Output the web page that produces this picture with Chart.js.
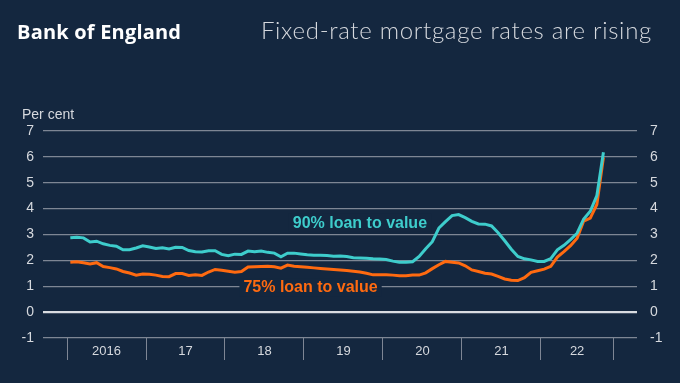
<!DOCTYPE html>
<html>
<head>
<meta charset="utf-8">
<script src="https://cdn.jsdelivr.net/npm/chart.js@4.4.1/dist/chart.umd.min.js"></script>
<style>
  html, body { margin: 0; padding: 0; background: #14273f; }
  #wrap { position: relative; width: 680px; height: 383px; overflow: hidden; background: #14273f; }
  #brand { position: absolute; left: 17px; top: 18px; font: 700 20px "Open Sans", Lato, sans-serif; color: #ffffff; letter-spacing: 0.2px; }
  #title { position: absolute; right: 28px; top: 15px; font: 300 24px Lato, "Open Sans", sans-serif; color: #d6d9de; letter-spacing: 0.7px; }
  #unit { position: absolute; left: 22px; top: 106px; font: 14px "Liberation Sans", Arial, sans-serif; color: #d6d9de; }
  canvas { position: absolute; left: 0; top: 0; }
</style>
</head>
<body>
<div id="wrap">
  <canvas id="c" width="680" height="383"></canvas>
  <div id="brand">Bank of England</div>
  <div id="title">Fixed-rate mortgage rates are rising</div>
  <div id="unit">Per cent</div>
</div>
<script>
// monthly, Jan 2016 .. Oct 2022 (x = month index)
const ltv90 = [
  2.87, 2.89, 2.87, 2.71, 2.74, 2.64, 2.58, 2.55, 2.41, 2.41, 2.48, 2.56,
  2.52, 2.46, 2.49, 2.44, 2.51, 2.50, 2.38, 2.33, 2.32, 2.37, 2.37, 2.23,
  2.18, 2.24, 2.23, 2.36, 2.33, 2.36, 2.31, 2.28, 2.14, 2.28, 2.28, 2.25,
  2.22, 2.20, 2.20, 2.19, 2.16, 2.17, 2.15, 2.10, 2.09, 2.08, 2.06, 2.05,
  2.03, 1.97, 1.93, 1.93, 1.95, 2.15, 2.45, 2.72, 3.25, 3.50, 3.73, 3.77,
  3.65, 3.51, 3.41, 3.40, 3.33, 3.07, 2.76, 2.43, 2.15, 2.06, 2.02, 1.96,
  1.96, 2.07, 2.41, 2.58, 2.80, 3.05, 3.60, 3.90, 4.50, 6.18
];
const ltv75 = [
  1.93, 1.95, 1.91, 1.86, 1.91, 1.76, 1.72, 1.67, 1.57, 1.51, 1.43, 1.47,
  1.46, 1.43, 1.38, 1.37, 1.49, 1.49, 1.42, 1.44, 1.42, 1.55, 1.65, 1.62,
  1.58, 1.54, 1.57, 1.74, 1.75, 1.76, 1.77, 1.75, 1.70, 1.82, 1.77, 1.75,
  1.73, 1.71, 1.69, 1.67, 1.65, 1.63, 1.61, 1.58, 1.55, 1.50, 1.44, 1.44,
  1.44, 1.43, 1.41, 1.41, 1.43, 1.43, 1.52, 1.68, 1.83, 1.96, 1.93, 1.90,
  1.79, 1.63, 1.57, 1.50, 1.47, 1.38, 1.28, 1.23, 1.22, 1.33, 1.54, 1.60,
  1.66, 1.77, 2.13, 2.34, 2.57, 2.86, 3.52, 3.63, 4.16, 5.98
];
const yearEdges = [-0.5, 11.5, 23.5, 35.5, 47.5, 59.5, 71.5, 82.5];
const yearMids = [5.5, 17.5, 29.5, 41.5, 53.5, 65.5, 77];
const yearLabels = ['2016', '17', '18', '19', '20', '21', '22'];
const seriesLabels = ['90% loan to value', '75% loan to value'];
const labelAt = [[44, 3.46], [36.5, 0.97]];

const BG = '#14273f', TEAL = '#3ecdcc', ORANGE = '#ff6a10';
const GRID = '#7e8694', ZERO = '#d9dce1', TXT = '#d6d9de';
const pts = arr => arr.map((v, i) => ({ x: i, y: v }));

const seriesText = {
  id: 'seriesText',
  beforeDatasetsDraw(chart) {
    const { ctx, scales: { x, y } } = chart;
    const cols = [TEAL, ORANGE];
    ctx.save();
    ctx.font = 'bold 16px "Liberation Sans", Arial, sans-serif';
    ctx.textAlign = 'center';
    ctx.textBaseline = 'middle';
    seriesLabels.forEach((t, i) => {
      const px = x.getPixelForValue(labelAt[i][0]), py = y.getPixelForValue(labelAt[i][1]);
      const w = ctx.measureText(t).width;
      ctx.fillStyle = BG;
      ctx.fillRect(px - w / 2 - 4, py - 9, w + 8, 18);
      ctx.fillStyle = cols[i];
      ctx.fillText(t, px, py + 1);
    });
    ctx.restore();
  }
};

new Chart(document.getElementById('c'), {
  type: 'line',
  data: {
    datasets: [
      { label: seriesLabels[0], data: pts(ltv90), borderColor: TEAL, borderWidth: 3, pointRadius: 0, tension: 0 },
      { label: seriesLabels[1], data: pts(ltv75), borderColor: ORANGE, borderWidth: 3, pointRadius: 0, tension: 0 }
    ]
  },
  options: {
    responsive: false,
    animation: false,
    layout: { padding: { top: 131, left: 0, right: 0, bottom: 0 } },
    plugins: { legend: { display: false }, tooltip: { enabled: false } },
    scales: {
      x: {
        type: 'linear', min: -4.15, max: 86.1,
        afterBuildTicks: s => { s.ticks = yearEdges.concat(yearMids).map(v => ({ value: v })); },
        afterFit: s => { s.height = 45; },
        border: { display: false },
        grid: {
          drawOnChartArea: false, drawTicks: true, tickLength: 22, lineWidth: 1,
          color: c => (c.tick && yearMids.includes(c.tick.value)) ? 'rgba(0,0,0,0)' : GRID
        },
        ticks: {
          autoSkip: false, maxRotation: 0, padding: -16, color: TXT,
          font: { family: '"Liberation Sans", Arial, sans-serif', size: 13 },
          callback: v => { const i = yearMids.indexOf(v); return i < 0 ? '' : yearLabels[i]; }
        }
      },
      y: {
        position: 'left', min: -1, max: 7,
        afterFit: s => { s.width = 43; },
        border: { display: false },
        grid: {
          drawTicks: false,
          color: c => c.tick.value === 0 ? ZERO : GRID,
          lineWidth: c => c.tick.value === 0 ? 2.2 : 1.2
        },
        ticks: { stepSize: 1, padding: 9, color: TXT, font: { family: '"Liberation Sans", Arial, sans-serif', size: 14 } }
      },
      y2: {
        type: 'linear', position: 'right', min: -1, max: 7,
        afterFit: s => { s.width = 43; },
        border: { display: false },
        grid: { display: false, drawTicks: false },
        ticks: { stepSize: 1, padding: 13, color: TXT, font: { family: '"Liberation Sans", Arial, sans-serif', size: 14 } }
      }
    }
  },
  plugins: [seriesText]
});
</script>
</body>
</html>
